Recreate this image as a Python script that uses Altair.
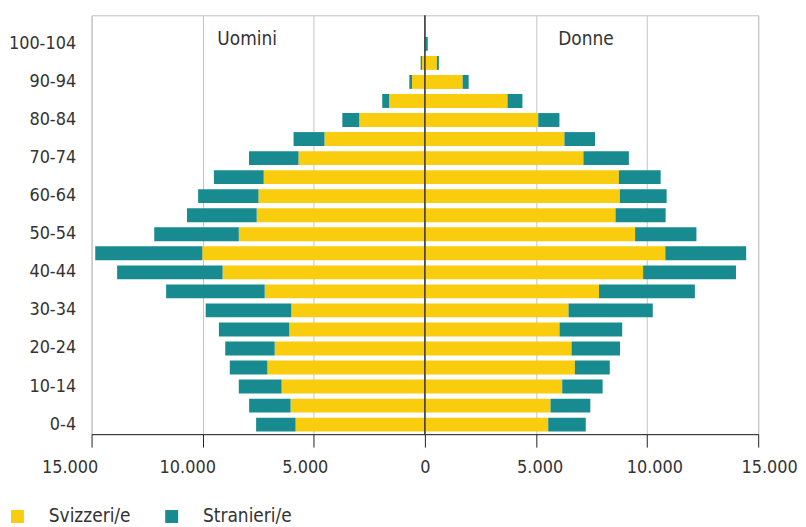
import altair as alt
import pandas as pd

ages = ['0-4', '5-9', '10-14', '15-19', '20-24', '25-29', '30-34', '35-39', '40-44',
        '45-49', '50-54', '55-59', '60-64', '65-69', '70-74', '75-79', '80-84',
        '85-89', '90-94', '95-99', '100-104']
men_swiss = [5820, 6045, 6450, 7090, 6760, 6105, 6015, 7210, 9105, 10015, 8375,
             7570, 7490, 7255, 5690, 4520, 2955, 1610, 580, 130, 20]
men_foreign = [1775, 1865, 1925, 1690, 2225, 3165, 3850, 4435, 4745, 4820, 3805,
               3135, 2715, 2240, 2225, 1390, 760, 310, 120, 60, 5]
women_swiss = [5550, 5655, 6180, 6750, 6600, 6060, 6465, 7835, 9820, 10820, 9460,
               8580, 8775, 8730, 7135, 6280, 5100, 3720, 1700, 540, 20]
women_foreign = [1690, 1790, 1820, 1570, 2180, 2820, 3790, 4315, 4180, 3640, 2760,
                 2255, 2105, 1880, 2045, 1375, 955, 670, 270, 90, 110]
groups = ['Svizzeri/e', 'Stranieri/e']
sexes = ['Uomini', 'Donne']

rows = []
for i, a in enumerate(ages):
    rows.append(dict(age=a, sex=sexes[0], nat=groups[0], ord=0, value=-men_swiss[i]))
    rows.append(dict(age=a, sex=sexes[0], nat=groups[1], ord=1, value=-men_foreign[i]))
    rows.append(dict(age=a, sex=sexes[1], nat=groups[0], ord=0, value=women_swiss[i]))
    rows.append(dict(age=a, sex=sexes[1], nat=groups[1], ord=1, value=women_foreign[i]))
df = pd.DataFrame(rows)

y_domain = ['105+'] + ages[::-1]
shown = ages[::2]

FONT = "DejaVu Sans Condensed, Roboto, sans-serif"
TXT = "#333333"
YELLOW = "#F9CC0E"
TEAL = "#178B8F"

xscale = alt.Scale(domain=[-15000, 15000], nice=False)

bars = alt.Chart(df).mark_bar().encode(
    x=alt.X('value:Q', stack='zero', scale=xscale,
            axis=alt.Axis(values=list(range(-15000, 15001, 5000)), title=None,
                          labelExpr="datum.value == 0 ? '0' : replace(format(abs(datum.value), ','), ',', '.')",
                          grid=True, gridColor='#c4c4c4', gridWidth=1,
                          tickSize=13, tickColor='#222222', tickWidth=1,
                          domainColor='#222222', domainWidth=1,
                          labelFont=FONT, labelFontSize=18, labelColor=TXT,
                          labelPadding=12, labelFlush=False,
                          labelOffset=alt.ExprRef(expr="datum.value == 0 ? 0 : (datum.value < 0 ? datum.value * 0.0013 - 2.5 : datum.value * 0.00073)"))),
    y=alt.Y('age:N', scale=alt.Scale(domain=y_domain, paddingInner=0.27, paddingOuter=0.135),
            axis=alt.Axis(values=shown, title=None, ticks=False, domain=False, grid=False,
                          labelFont=FONT, labelFontSize=18, labelColor=TXT,
                          labelPadding=16, minExtent=79, maxExtent=79)),
    color=alt.Color('nat:N', scale=alt.Scale(domain=groups, range=[YELLOW, TEAL]),
                    legend=alt.Legend(orient='none', legendX=-84, legendY=494,
                                      direction='horizontal', title=None,
                                      symbolType='square', symbolSize=169,
                                      symbolStrokeWidth=0, symbolOpacity=1,
                                      labelFont=FONT, labelFontSize=19, labelColor=TXT,
                                      labelOffset=22, columnPadding=31, padding=0)),
    order=alt.Order('ord:Q'),
    detail='sex:N',
)

zero = alt.Chart().mark_rule(color='#333333', strokeWidth=1.5).encode(x=alt.datum(0))

t_men = alt.Chart().mark_text(text=sexes[0], font=FONT, fontSize=19, color=TXT,
                              baseline='alphabetic').encode(x=alt.datum(-8000), y=alt.value(30))
t_women = alt.Chart().mark_text(text=sexes[1], font=FONT, fontSize=19, color=TXT,
                                baseline='alphabetic').encode(x=alt.datum(7250), y=alt.value(30))

chart = alt.layer(bars, zero, t_men, t_women).properties(
    width=670, height=421,
    padding={"left": 0, "top": 5, "right": 0, "bottom": 5}
).configure_view(stroke='#c0c0c0', strokeWidth=1)

chart.save("out.html", embed_options={"renderer": "svg", "actions": False})
